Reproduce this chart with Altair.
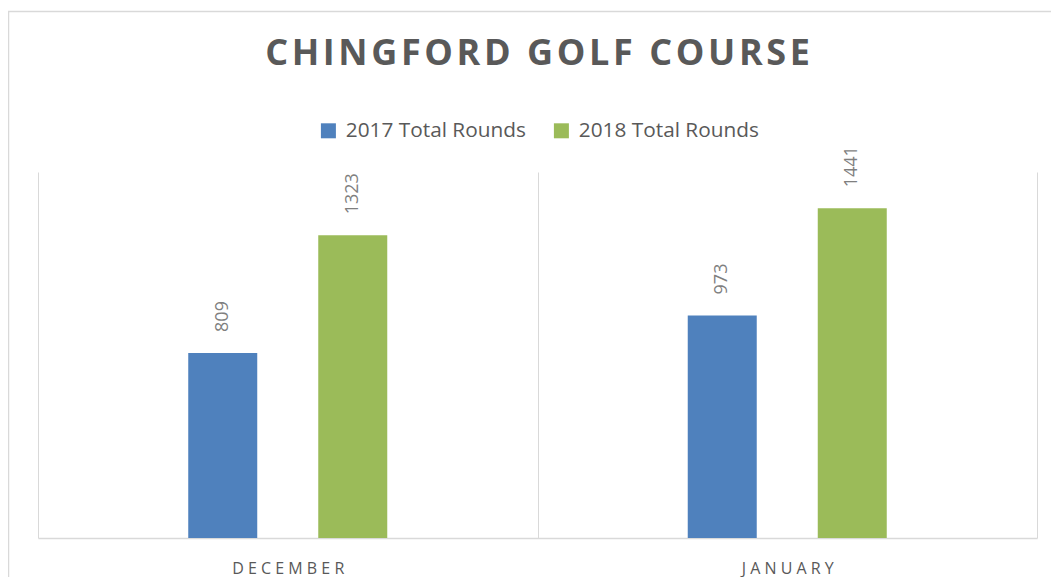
import altair as alt
import pandas as pd

months = ["DECEMBER", "JANUARY"]
series = ["2017 Total Rounds", "2018 Total Rounds"]
rounds_2017 = [809, 973]
rounds_2018 = [1323, 1441]
colors = ["#4F81BD", "#9BBB59"]
title_text = "CHINGFORD GOLF COURSE"

rows = []
for i, m in enumerate(months):
    rows.append({"month": m, "series": series[0], "rounds": rounds_2017[i]})
    rows.append({"month": m, "series": series[1], "rounds": rounds_2018[i]})
df = pd.DataFrame(rows)

spaced_title = "\u200a".join(list(title_text))

x_enc = alt.X("month:N", sort=months, title=None,
              scale=alt.Scale(paddingInner=0, paddingOuter=0),
              axis=alt.Axis(tickBand="extent", grid=True, gridColor="#d9d9d9",
                            gridWidth=1, domainColor="#d9d9d9", domainWidth=1.5,
                            ticks=False, labelAngle=0, labelFont="Open Sans",
                            labelFontSize=16, labelColor="#595959", labelPadding=22,
                            labelExpr="join(split(datum.label, ''), ' ')"))
xo_enc = alt.XOffset("series:N", sort=series,
                     scale=alt.Scale(paddingInner=0, paddingOuter=0.921))
y_enc = alt.Y("rounds:Q", scale=alt.Scale(domain=[0, 1600]), axis=None)

frame = alt.Chart(alt.Data(values=[{"a": 1}])).mark_rect(
    fill=None, stroke="#d9d9d9", strokeWidth=1.5
).encode(x=alt.value(-29.5), x2=alt.value(1030), y=alt.value(-160.5), y2=alt.value(430))

bars = alt.Chart(df).mark_bar(width=69).encode(
    x=x_enc, xOffset=xo_enc, y=y_enc,
    color=alt.Color("series:N", sort=series,
                    scale=alt.Scale(domain=series, range=colors),
                    legend=alt.Legend(title=None, orient="none", legendX=280, legendY=-52,
                                      direction="horizontal", symbolType="square",
                                      symbolSize=225, symbolStrokeWidth=0,
                                      columnPadding=25, labelOffset=7, padding=0,
                                      labelLimit=0,
                                      labelFont="Open Sans", labelFontSize=20.8,
                                      labelColor="#595959"))
)

labels = alt.Chart(df).mark_text(
    angle=270, align="left", baseline="middle", dx=21,
    font="Open Sans", fontSize=18, color="#7f7f7f"
).encode(x=x_enc, xOffset=xo_enc, y=y_enc, text=alt.Text("rounds:Q"))

chart = alt.layer(frame, bars, labels).properties(
    width=999, height=366,
    autosize=alt.AutoSizeParams(type="none"),
    padding={"left": 30, "top": 164, "right": 14, "bottom": 39},
    title=alt.TitleParams(spaced_title, font="Open Sans", fontSize=36, fontWeight="bold",
                          color="#595959", anchor="middle", offset=-62),
).configure_view(stroke=None)

chart.save("out.html", embed_options={"renderer": "svg", "actions": False})
